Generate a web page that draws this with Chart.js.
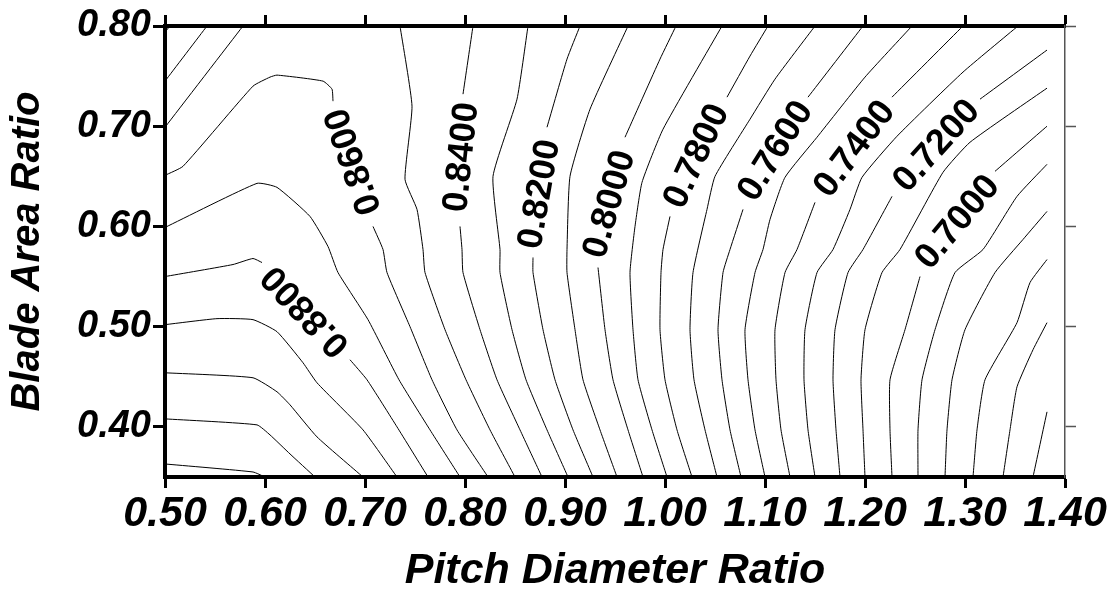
<!DOCTYPE html>
<html>
<head>
<meta charset="utf-8">
<script src="https://cdn.jsdelivr.net/npm/chart.js@4.4.1/dist/chart.umd.min.js"></script>
<style>
  html, body { margin: 0; padding: 0; background: #fff; }
  #wrap { width: 1112px; height: 601px; }
</style>
</head>
<body>
<div id="wrap"><canvas id="contour" width="1112" height="601"></canvas></div>
<script>
// tick labels
const pdTicks = [0.5, 0.6, 0.7, 0.8, 0.9, 1.0, 1.1, 1.2, 1.3, 1.4];
const barTicks = [0.4, 0.5, 0.6, 0.7, 0.8];

// contour lines, [P/D, BAR] pairs, null = gap for a label
const c092 = [[0.500,0.363],[0.588,0.355],[0.600,0.350]];
const c091 = [[0.500,0.408],[0.592,0.402],[0.605,0.392],[0.625,0.373],[0.650,0.350]];
const c090 = [[0.500,0.454],[0.588,0.449],[0.612,0.435],[0.625,0.422],[0.652,0.390],[0.698,0.350]];
const c089 = [[0.500,0.502],[0.552,0.508],[0.588,0.507],[0.612,0.495],[0.638,0.464],[0.652,0.444],[0.698,0.397],[0.732,0.350]];
const c088 = [[0.500,0.550],[0.568,0.562],[0.588,0.568],[0.597,0.564],null,[0.685,0.467],[0.702,0.447],[0.732,0.400],[0.763,0.350]];
const c087 = [[0.500,0.599],[0.592,0.643],[0.612,0.639],[0.645,0.610],[0.663,0.580],[0.673,0.554],[0.703,0.507],[0.734,0.447],[0.765,0.397],[0.795,0.350]];
const c086 = [[0.500,0.651],[0.518,0.660],[0.588,0.740],[0.605,0.749],[0.612,0.751],[0.658,0.745],[0.667,0.737],[0.668,0.725],null,
              [0.708,0.600],[0.718,0.577],[0.722,0.554],[0.745,0.500],[0.767,0.447],[0.792,0.397],[0.823,0.350]];
const c085a = [[0.500,0.699],[0.578,0.800]];
const c085 = [[0.735,0.800],[0.747,0.720],[0.740,0.647],[0.752,0.617],[0.758,0.577],[0.760,0.554],[0.780,0.497],[0.801,0.447],[0.825,0.397],[0.850,0.350]];
const c084a = [[0.500,0.745],[0.542,0.800]];
const c084 = [[0.808,0.800],[0.798,0.732],null,[0.795,0.600],[0.797,0.577],[0.798,0.554],[0.815,0.497],[0.832,0.447],[0.855,0.397],[0.877,0.350]];
const c083a = [[0.500,0.794],[0.505,0.800]];
const c083 = [[0.863,0.800],[0.852,0.727],[0.828,0.650],[0.835,0.577],[0.835,0.554],[0.847,0.497],[0.861,0.447],[0.882,0.397],[0.903,0.350]];
const c082 = [[0.915,0.800],[0.902,0.767],[0.882,0.699],null,[0.868,0.569],[0.868,0.554],[0.878,0.497],[0.890,0.447],[0.908,0.397],[0.928,0.350]];
const c081 = [[0.963,0.800],[0.925,0.717],[0.905,0.650],[0.902,0.577],[0.902,0.554],[0.910,0.497],[0.918,0.447],[0.935,0.397],[0.952,0.350]];
const c080 = [[1.011,0.800],[0.995,0.767],[0.960,0.689],null,[0.933,0.559],[0.940,0.497],[0.948,0.447],[0.963,0.397],[0.978,0.350]];
const c079 = [[1.057,0.800],[0.998,0.697],[0.977,0.644],[0.970,0.600],[0.965,0.554],[0.968,0.497],[0.973,0.447],[0.987,0.397],[1.002,0.350]];
const c078 = [[1.103,0.800],[1.085,0.770],[1.062,0.729],null,[1.005,0.610],[0.998,0.577],[0.996,0.554],[0.995,0.497],[1.000,0.447],[1.012,0.397],[1.027,0.350]];
const c077 = [[1.150,0.800],[1.110,0.747],[1.085,0.707],[1.050,0.650],[1.042,0.617],[1.028,0.554],[1.025,0.497],[1.029,0.447],[1.040,0.397],[1.052,0.350]];
const c076 = [[1.198,0.800],[1.143,0.729],null,[1.078,0.617],[1.065,0.577],[1.058,0.554],[1.053,0.497],[1.057,0.447],[1.065,0.397],[1.076,0.350]];
const c075 = [[1.247,0.800],[1.200,0.749],[1.152,0.689],[1.120,0.649],[1.105,0.607],[1.098,0.577],[1.090,0.554],[1.080,0.497],[1.083,0.447],[1.090,0.397],[1.100,0.350]];
const c074 = [[1.298,0.800],[1.227,0.729],null,[1.150,0.624],[1.132,0.577],[1.120,0.554],[1.110,0.497],[1.111,0.447],[1.116,0.397],[1.125,0.350]];
const c073 = [[1.353,0.800],[1.298,0.754],[1.232,0.690],[1.197,0.649],[1.185,0.617],[1.168,0.577],[1.152,0.554],[1.140,0.497],[1.139,0.447],[1.143,0.397],[1.150,0.350]];
const c072 = [[1.382,0.776],[1.315,0.727],null,[1.227,0.630],[1.198,0.577],[1.183,0.554],[1.170,0.497],[1.168,0.447],[1.171,0.397],[1.175,0.350]];
const c071 = [[1.382,0.738],[1.305,0.684],[1.278,0.654],[1.235,0.577],[1.217,0.554],[1.200,0.497],[1.196,0.447],[1.198,0.397],[1.200,0.350]];
const c070 = [[1.382,0.700],[1.330,0.655],null,[1.255,0.550],[1.240,0.497],[1.225,0.447],[1.225,0.397],[1.227,0.350]];
const c069 = [[1.382,0.662],[1.352,0.630],[1.318,0.577],[1.290,0.554],[1.270,0.497],[1.257,0.447],[1.253,0.397],[1.253,0.350]];
const c068 = [[1.382,0.615],[1.358,0.587],[1.330,0.554],[1.300,0.497],[1.287,0.447],[1.282,0.397],[1.280,0.350]];
const c067 = [[1.382,0.567],[1.365,0.544],[1.352,0.504],[1.320,0.447],[1.312,0.397],[1.308,0.350]];
const c066 = [[1.382,0.504],[1.368,0.477],[1.352,0.440],[1.345,0.397],[1.338,0.350]];
const c065 = [[1.382,0.415],[1.368,0.350]];

const contours = [c092, c091, c090, c089, c088, c087, c086, c085a, c085, c084a, c084, c083a, c083,
  c082, c081, c080, c079, c078, c077, c076, c075, c074, c073, c072, c071, c070, c069, c068, c067, c066, c065];

// contour labels: text, P/D, BAR, angle (deg)
const labelText = ['0.8800', '0.8600', '0.8400', '0.8200', '0.8000', '0.7800', '0.7600', '0.7400', '0.7200', '0.7000'];
const labelPD   = [0.641, 0.689, 0.797, 0.875, 0.945, 1.032, 1.111, 1.190, 1.272, 1.293];
const labelBAR  = [0.516, 0.665, 0.669, 0.632, 0.622, 0.670, 0.675, 0.677, 0.680, 0.604];
const labelRot  = [-133, -109, -84, -80, -74, -65, -58, -53, -48, -50];

const FAMILY = '"Liberation Sans", Arial, Helvetica, sans-serif';

const datasets = contours.map(arr => ({
  data: arr.map(p => p ? { x: p[0], y: p[1] } : { x: 1, y: null }),
  borderColor: '#000',
  borderWidth: 1,
  pointRadius: 0,
  tension: 0.15,
  spanGaps: false,
}));

// draws the rotated contour values
const contourLabels = {
  id: 'contourLabels',
  afterDatasetsDraw(chart) {
    const { ctx, scales } = chart;
    ctx.save();
    ctx.fillStyle = '#000';
    ctx.font = 'bold 36px ' + FAMILY;
    ctx.textAlign = 'center';
    ctx.textBaseline = 'middle';
    labelText.forEach((t, i) => {
      const px = scales.x.getPixelForValue(labelPD[i]);
      const py = scales.y.getPixelForValue(labelBAR[i]);
      ctx.save();
      ctx.translate(px, py);
      ctx.rotate(labelRot[i] * Math.PI / 180);
      ctx.fillText(t, 0, 0);
      ctx.restore();
    });
    ctx.restore();
  }
};

const xTickFont = { family: FAMILY, size: 43, weight: 'bold', style: 'italic' };
const yTickFont = { family: FAMILY, size: 38, weight: 'bold', style: 'italic' };
const xTitleFont = { family: FAMILY, size: 43, weight: 'bold', style: 'italic' };
const yTitleFont = { family: FAMILY, size: 40, weight: 'bold', style: 'italic' };

new Chart(document.getElementById('contour'), {
  type: 'line',
  data: { datasets },
  plugins: [contourLabels],
  options: {
    responsive: false,
    animation: false,
    devicePixelRatio: 1,
    layout: { padding: 0 },
    plugins: { legend: { display: false }, tooltip: { enabled: false } },
    scales: {
      x: {
        type: 'linear', position: 'bottom', min: 0.5, max: 1.4,
        afterBuildTicks: s => { s.ticks = pdTicks.map(v => ({ value: v })); },
        afterFit: s => { s.height = 124; },
        ticks: { font: xTickFont, color: '#000', padding: 0, autoSkip: false, maxRotation: 0,
                 callback: v => v.toFixed(2) },
        grid: { drawOnChartArea: false, drawTicks: true, tickLength: 11, tickWidth: 3, tickColor: '#000' },
        border: { color: '#000', width: 4 },
        title: { display: true, text: 'Pitch Diameter Ratio', font: xTitleFont, color: '#000', padding: { bottom: 4 } }
      },
      x2: {
        type: 'linear', position: 'top', min: 0.5, max: 1.4,
        afterBuildTicks: s => { s.ticks = pdTicks.map(v => ({ value: v })); },
        afterFit: s => { s.height = 26; },
        ticks: { display: false },
        grid: { drawOnChartArea: false, drawTicks: true, tickLength: 11, tickWidth: 3, tickColor: '#000' },
        border: { color: '#000', width: 4 }
      },
      y: {
        type: 'linear', position: 'left', min: 0.35, max: 0.80,
        afterBuildTicks: s => { s.ticks = barTicks.map(v => ({ value: v })); },
        afterFit: s => { s.width = 165; },
        ticks: { font: yTickFont, color: '#000', padding: 2, callback: v => v.toFixed(2) },
        grid: { drawOnChartArea: false, drawTicks: true, tickLength: 12, tickWidth: 3, tickColor: '#000' },
        border: { color: '#000', width: 4 },
        title: { display: true, text: 'Blade Area Ratio', font: yTitleFont, color: '#000', padding: { top: 4 } }
      },
      y2: {
        type: 'linear', position: 'right', min: 0.35, max: 0.80,
        afterBuildTicks: s => { s.ticks = barTicks.map(v => ({ value: v })); },
        afterFit: s => { s.width = 47; },
        ticks: { display: false },
        grid: { drawOnChartArea: false, drawTicks: true, tickLength: 11, tickWidth: 1.5, tickColor: '#555' },
        border: { color: '#555', width: 1.5 }
      }
    }
  }
});
</script>
</body>
</html>
